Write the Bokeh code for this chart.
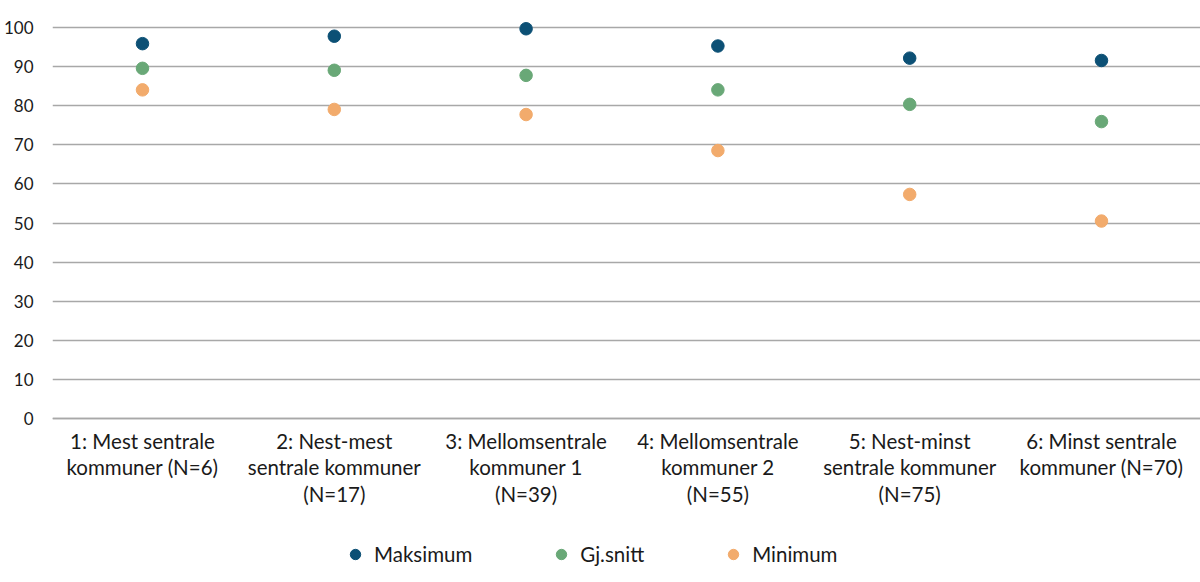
from bokeh.plotting import figure
from bokeh.models import ColumnDataSource, Range1d, FixedTicker, Legend, LegendItem
from bokeh.embed import file_html
from bokeh.resources import INLINE

categories = [
    "1: Mest sentrale\nkommuner (N=6)",
    "2: Nest-mest\nsentrale kommuner\n(N=17)",
    "3: Mellomsentrale\nkommuner 1\n(N=39)",
    "4: Mellomsentrale\nkommuner 2\n(N=55)",
    "5: Nest-minst\nsentrale kommuner\n(N=75)",
    "6: Minst sentrale\nkommuner (N=70)",
]
maksimum = [95.8, 97.7, 99.6, 95.2, 92.1, 91.5]
gjsnitt = [89.5, 89.0, 87.7, 84.0, 80.3, 75.9]
minimum = [84.0, 79.0, 77.7, 68.5, 57.3, 50.5]
series_names = ["Maksimum", "Gj.snitt", "Minimum"]
y_ticks = list(range(0, 101, 10))

colors = ["#0c5075", "#69a877", "#f2ab6c"]
FONT = "Lato"
TEXT = "#1a1a1a"
GRID = "#a8a8a8"

pos = list(range(len(categories)))
src = ColumnDataSource(dict(x=pos, maks=maksimum, gj=gjsnitt, mn=minimum))

p = figure(
    width=1200, height=582,
    min_border_left=52, min_border_right=0, min_border_top=0, min_border_bottom=0,
    x_range=Range1d(-0.4692, 5.5162), y_range=Range1d(-41.80, 106.82),
    output_backend="svg", toolbar_location=None, tools="",
)
p.outline_line_color = None
p.background_fill_color = "white"
p.border_fill_color = "white"

renderers = []
for col, c in zip(["maks", "gj", "mn"], colors):
    r = p.scatter(x="x", y=col, source=src, size=12.5, fill_color=c, line_color=c)
    renderers.append(r)

p.xgrid.grid_line_color = None
p.ygrid.grid_line_color = GRID
p.ygrid.grid_line_width = 1.3
p.ygrid.ticker = FixedTicker(ticks=y_ticks)

ya = p.yaxis[0]
ya.ticker = FixedTicker(ticks=y_ticks)
ya.axis_line_color = None
ya.major_tick_line_color = None
ya.minor_tick_line_color = None
ya.major_label_standoff = 13
ya.major_label_text_font = FONT
ya.major_label_text_font_size = "17px"
ya.major_label_text_color = TEXT

xa = p.xaxis[0]
xa.fixed_location = 0
xa.ticker = FixedTicker(ticks=pos)
xa.major_label_overrides = {i: lab for i, lab in enumerate(categories)}
xa.axis_line_color = GRID
xa.axis_line_width = 1.3
xa.major_tick_line_color = None
xa.minor_tick_line_color = None
xa.major_label_standoff = 4
xa.major_label_text_font = FONT
xa.major_label_text_font_size = "20.5px"
xa.major_label_text_color = TEXT
xa.major_label_text_line_height = 1.1

legend = Legend(
    items=[LegendItem(label=n, renderers=[r]) for n, r in zip(series_names, renderers)],
    orientation="horizontal", location=(290, 15),
    border_line_color=None, background_fill_alpha=0,
    label_text_font=FONT, label_text_font_size="20.5px", label_text_color=TEXT,
    glyph_width=26, glyph_height=26, label_standoff=6, spacing=76,
    padding=0, margin=0,
)
p.add_layout(legend)

open("out.html", "w").write(file_html(p, INLINE))
